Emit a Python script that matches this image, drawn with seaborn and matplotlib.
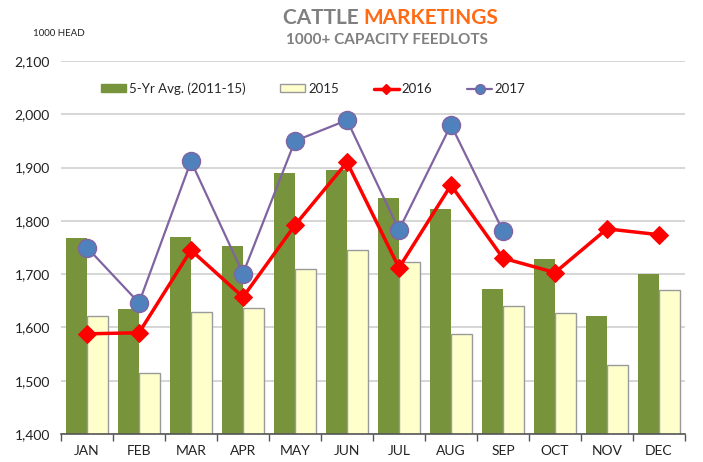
import numpy as np
import pandas as pd
import matplotlib
matplotlib.use("Agg")
import matplotlib.pyplot as plt
import seaborn as sns
from matplotlib.patches import Patch
from matplotlib.lines import Line2D

months = ["JAN", "FEB", "MAR", "APR", "MAY", "JUN", "JUL", "AUG", "SEP", "OCT", "NOV", "DEC"]
avg_5yr = [1768, 1634, 1770, 1753, 1890, 1895, 1843, 1822, 1672, 1728, 1621, 1700]
y2015 = [1622, 1514, 1629, 1637, 1709, 1745, 1723, 1587, 1641, 1628, 1529, 1671]
y2016 = [1588, 1590, 1745, 1657, 1792, 1910, 1712, 1867, 1730, 1703, 1785, 1774]
y2017 = [1750, 1646, 1912, 1701, 1950, 1989, 1783, 1980, 1781]
yticks = [1400, 1500, 1600, 1700, 1800, 1900, 2000, 2100]

sns.set_theme(style="white")
plt.rcParams["font.family"] = ["Lato", "DejaVu Sans"]

GREEN = "#77933C"
CREAM = "#FFFFCC"
RED = "#FF0000"
PURPLE = "#8064A2"
BLUE = "#4F81BD"

bars = pd.DataFrame({
    "month": months * 2,
    "value": avg_5yr + y2015,
    "series": ["5-Yr Avg. (2011-15)"] * 12 + ["2015"] * 12,
})

fig = plt.figure(figsize=(7.03, 4.62), dpi=100)
ax = fig.add_axes([61 / 703, 1 - 434 / 462, 624 / 703, 373 / 462])

sns.barplot(data=bars, x="month", y="value", hue="series", order=months,
            palette=[GREEN, CREAM], width=0.8, ax=ax, legend=False,
            saturation=1, zorder=2)
for p in ax.patches:
    if np.allclose(p.get_facecolor()[:3], matplotlib.colors.to_rgb(CREAM)):
        p.set_edgecolor("#9A9A9A")
        p.set_linewidth(1.0)
    else:
        p.set_edgecolor(GREEN)
        p.set_linewidth(0)

x16 = np.arange(len(y2016))
x17 = np.arange(len(y2017))
sns.lineplot(x=x16, y=y2016, ax=ax, color=RED, lw=2.5, marker="D",
             markersize=9, markeredgecolor=RED, zorder=4)
sns.lineplot(x=x17, y=y2017, ax=ax, color=PURPLE, lw=1.6, marker="o",
             markersize=13, markerfacecolor=BLUE, markeredgecolor=PURPLE,
             markeredgewidth=1, zorder=5)

ax.set_ylim(1400, 2100)
ax.set_xlim(-0.5, 11.5)
ax.set_yticks(yticks)
ax.set_yticklabels([f"{v:,}" for v in yticks], fontsize=10, color="#222222")
ax.yaxis.grid(True, color="#D0D0D0", lw=1.2, zorder=0)
ax.set_axisbelow(True)
ax.set_xlabel("")
ax.set_ylabel("")

ax.set_xticks(np.arange(12))
ax.set_xticklabels(months, fontsize=10, color="#222222")
ax.set_xticks(np.arange(-0.5, 12, 1), minor=True)
ax.tick_params(axis="x", which="major", length=0, pad=8)
ax.tick_params(axis="x", which="minor", length=5, width=1, color="#555555", direction="out", bottom=True)
ax.tick_params(axis="y", length=0, pad=8)
for s in ["top", "right", "left"]:
    ax.spines[s].set_visible(False)
ax.spines["bottom"].set_color("#555555")
ax.spines["bottom"].set_linewidth(1.2)

handles = [
    Patch(facecolor=GREEN, edgecolor=GREEN, label="5-Yr Avg. (2011-15)"),
    Patch(facecolor=CREAM, edgecolor="#9A9A9A", label="2015"),
    Line2D([], [], color=RED, lw=2.5, marker="D", markersize=5, label="2016"),
    Line2D([], [], color=PURPLE, lw=1.6, marker="o", markersize=7,
           markerfacecolor=BLUE, markeredgecolor=PURPLE, label="2017"),
]
ax.legend(handles=handles, loc="upper left", bbox_to_anchor=(0.045, 0.975), ncol=4,
          frameon=False, fontsize=9.5, handlelength=1.9, handletextpad=0.2,
          columnspacing=2.65, handleheight=0.5)

fig.text(0.5 + 12 / 703, 1 - 18 / 462, "CATTLE ", ha="right", va="center", fontsize=15,
         fontweight="bold", color="#7F7F7F")
fig.text(0.5 + 12 / 703, 1 - 18 / 462, "MARKETINGS", ha="left", va="center", fontsize=15,
         fontweight="bold", color="#FF6A13")
fig.text(387 / 703, 1 - 40 / 462, "1000+ CAPACITY FEEDLOTS", ha="center", va="center",
         fontsize=11, fontweight="bold", color="#7F7F7F")
fig.text(33 / 703, 1 - 34 / 462, "1000 HEAD", ha="left", va="center", fontsize=7,
         color="#222222")

fig.savefig("out.png", dpi=100)
